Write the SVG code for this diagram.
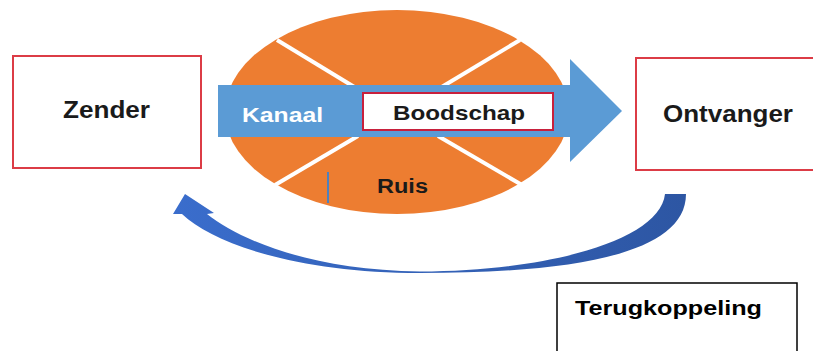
<svg xmlns="http://www.w3.org/2000/svg" width="813" height="351" viewBox="0 0 813 351">
<defs>
<style>
.box{fill:#ffffff;stroke:#dc3c46;stroke-width:2}
.lbl{font-family:"Liberation Sans",Arial,sans-serif;font-weight:bold;fill:#1a1a1a}
.sep{stroke:#ffffff;stroke-width:4}
</style>
<linearGradient id="fb" x1="0" y1="0" x2="1" y2="0">
<stop offset="0" stop-color="#3a6dcc"/>
<stop offset="1" stop-color="#2d56a3"/>
</linearGradient>
</defs>
<rect width="813" height="351" fill="#ffffff"/>
<g id="zender">
<rect class="box" x="13" y="56" width="188" height="112"/>
<text class="lbl" x="63" y="118" font-size="23" textLength="87" lengthAdjust="spacingAndGlyphs">Zender</text>
</g>
<g id="kanaal">
<ellipse cx="397" cy="112" rx="172" ry="102" fill="#ed7d31"/>
<line class="sep" x1="277" y1="40" x2="356" y2="88"/>
<line class="sep" x1="520" y1="40" x2="440" y2="88"/>
<line class="sep" x1="358" y1="136" x2="275" y2="185"/>
<line class="sep" x1="438" y1="136" x2="522" y2="185"/>
<polygon points="218,85 570,85 570,59 622,111 570,162 570,137 218,137" fill="#5b9bd5"/>
<text x="242" y="122" font-family="Liberation Sans,Arial,sans-serif" font-weight="bold" font-size="20" fill="#ffffff" textLength="81" lengthAdjust="spacingAndGlyphs">Kanaal</text>
</g>
<g id="boodschap">
<rect x="363" y="93" width="190" height="37" fill="#ffffff" stroke="#c8203c" stroke-width="2"/>
<text class="lbl" x="393" y="120" font-size="21" textLength="132" lengthAdjust="spacingAndGlyphs">Boodschap</text>
</g>
<g id="ruis">
<line x1="328" y1="172" x2="328" y2="203" stroke="#4f81bd" stroke-width="2"/>
<text class="lbl" x="377" y="193" font-size="20" textLength="51" lengthAdjust="spacingAndGlyphs">Ruis</text>
</g>
<g id="ontvanger">
<rect class="box" x="636" y="58" width="190" height="112"/>
<text class="lbl" x="663" y="122" font-size="23" textLength="130" lengthAdjust="spacingAndGlyphs">Ontvanger</text>
</g>
<g id="terugkoppeling">
<rect x="557" y="283" width="240" height="80" fill="#ffffff" stroke="#000000" stroke-width="1.5"/>
<text x="575" y="315" font-family="Liberation Sans,Arial,sans-serif" font-weight="bold" font-size="21" fill="#000000" textLength="187" lengthAdjust="spacingAndGlyphs">Terugkoppeling</text>
</g>
<g id="connectors">
<path d="M686,194 C686,255 570,273 420,273 C300,273 215,245 182,214 L173,214 L185,194 L214,213 L207,214 C240,240 310,270 420,271.5 C550,271 660,240 665,194 Z" fill="url(#fb)"/>
</g>
</svg>
